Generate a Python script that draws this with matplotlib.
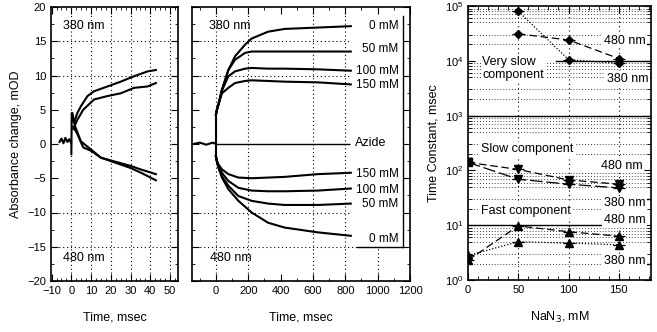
import numpy as np
import matplotlib
matplotlib.use("Agg")
import matplotlib.pyplot as plt
from matplotlib.ticker import MultipleLocator, LogLocator, NullFormatter
from matplotlib.patches import Rectangle

plt.rcParams['font.family'] = ['Liberation Sans', 'DejaVu Sans']
plt.rcParams['font.size'] = 9

# ---- panel 1: short time scale (msec) ----
t_base1 = [-6, -5, -4, -3, -2, -1, -0.2]
y_base1 = [0.3, 0.8, 0.1, 0.9, 0.3, 0.7, 0.2]
t380_a = [0, 0.2, 1.4, 3, 4.8, 8.2, 11.5, 18.3, 25, 31.8, 38.6, 42.8]
y380_a = [-1.5, 4.5, 3.1, 4.5, 5.5, 7.0, 7.7, 8.4, 9.1, 9.9, 10.6, 10.8]
t380_b = [1, 3, 6, 11.5, 18.3, 25, 31.8, 38.6, 42.8]
y380_b = [2.2, 3.5, 5.0, 6.5, 7.0, 7.4, 8.2, 8.4, 8.9]
t480_a = [0.5, 2, 4.8, 9.9, 15, 20, 25, 30, 35.3, 42.8]
y480_a = [4.5, 2.5, 0.4, -0.8, -2.0, -2.5, -3.0, -3.5, -4.2, -5.3]
t480_b = [1, 3, 6, 10, 15, 20, 25, 30, 35, 42.8]
y480_b = [2.5, 1.5, -0.5, -1.0, -2.0, -2.4, -2.8, -3.2, -3.7, -4.4]

# ---- panel 2: long time scale (msec), per azide concentration ----
t_base2 = [-140, -100, -60, -20, 0]
y_base2 = [0.0, 0.2, -0.1, 0.2, 0.0]
t2_380 = [0, 6, 16, 37, 77, 118, 180, 221, 323, 425, 630, 834]
y2_380 = {
    "0 mM":   [4.3, 5.0, 5.8, 7.9, 10.8, 12.8, 14.5, 15.4, 16.4, 16.8, 17.0, 17.2],
    "50 mM":  [4.3, 5.0, 5.8, 7.9, 10.8, 12.3, 13.3, 13.5, 13.5, 13.5, 13.5, 13.5],
    "100 mM": [4.3, 5.0, 5.8, 7.8, 9.9, 10.6, 11.0, 11.1, 11.0, 11.0, 10.9, 10.7],
    "150 mM": [4.3, 5.0, 5.8, 7.4, 8.2, 8.9, 9.2, 9.3, 9.2, 9.1, 9.0, 8.7],
}
t2_480 = [0, 6, 16, 37, 77, 139, 221, 323, 425, 630, 834]
y2_480 = {
    "150 mM": [-1.8, -2.5, -3.0, -3.7, -4.4, -4.9, -5.0, -4.9, -4.8, -4.4, -4.2],
    "100 mM": [-1.8, -2.5, -3.2, -4.2, -5.4, -6.4, -6.8, -6.9, -6.9, -6.8, -6.5],
    "50 mM":  [-1.8, -2.5, -3.4, -4.7, -6.1, -7.6, -8.3, -8.7, -8.9, -8.9, -8.7],
    "0 mM":   [-1.8, -2.6, -3.5, -4.9, -6.6, -8.3, -10.0, -11.5, -12.2, -12.9, -13.4],
}
lab380_y = [17.2, 13.9, 10.7, 8.65]
lab480_y = [-4.4, -6.7, -8.8, -13.9]

# ---- panel 3: time constants vs NaN3 ----
azide = [0, 50, 100, 150]
vslow_480 = [3.1e4, 2.4e4, 1.1e4]
vslow_380 = [8.0e4, 1.05e4, 9.0e3]
slow_480 = [140, 104, 67, 56]
slow_380 = [140, 69, 56, 48]
fast_480 = [2.3, 9.7, 7.6, 6.3]
fast_380 = [2.8, 5.0, 4.7, 4.4]

fig = plt.figure(figsize=(6.57, 3.32), dpi=100)
ax1 = fig.add_axes([51 / 657, 51 / 332, 127 / 657, 274 / 332])
ax2 = fig.add_axes([192 / 657, 51 / 332, 218 / 657, 274 / 332])
ax3 = fig.add_axes([468 / 657, 52 / 332, 183 / 657, 274 / 332])

dot = (0, (1, 2.5))
tr = dict(color='black', lw=1.5)


def style_lin(ax):
    ax.tick_params(which='both', direction='in', top=True, right=True, labelsize=8)
    ax.tick_params(which='major', length=5)
    ax.tick_params(which='minor', length=2.5)
    for s in ax.spines.values():
        s.set_linewidth(1.2)


# panel 1
ax1.plot(t_base1, y_base1, **tr)
ax1.plot(t380_a, y380_a, **tr)
ax1.plot(t380_b, y380_b, **tr)
ax1.plot(t480_a, y480_a, **tr)
ax1.plot(t480_b, y480_b, **tr)
ax1.set_xlim(-10.3, 54)
ax1.set_ylim(-20, 20)
ax1.set_xticks([-10, 0, 10, 20, 30, 40, 50],
               labels=['\u221210', '0', '10', '20', '30', '40', '50'])
ax1.xaxis.set_minor_locator(MultipleLocator(2.5))
ax1.yaxis.set_major_locator(MultipleLocator(5))
ax1.yaxis.set_minor_locator(MultipleLocator(2.5))
for x in [0, 10, 20, 30, 40, 50]:
    ax1.axvline(x, color='black', lw=0.8, ls=dot, zorder=0.5)
for y in [15, 10, -10, -15]:
    ax1.axhline(y, color='black', lw=0.8, ls=dot, zorder=0.5)
style_lin(ax1)
ax1.set_xlabel('Time, msec', labelpad=11)
ax1.set_ylabel('Absorbance change, mOD', labelpad=4)
ax1.text(-4.3, 17.2, '380 nm', va='center', fontsize=9)
ax1.text(-4.3, -16.6, '480 nm', va='center', fontsize=9)

# panel 2
ax2.plot(t_base2, y_base2, **tr)
for name, ys in y2_380.items():
    ax2.plot(t2_380, ys, **tr)
for name, ys in y2_480.items():
    ax2.plot(t2_480, ys, **tr)
ax2.plot([0, 0], [y2_480["0 mM"][0], y2_380["0 mM"][0]], **tr)
ax2.hlines(0, 0, 830, color='black', lw=1.0)
ax2.set_xlim(-148, 1200)
ax2.set_ylim(-20, 20)
ax2.xaxis.set_major_locator(MultipleLocator(200))
ax2.xaxis.set_minor_locator(MultipleLocator(100))
ax2.yaxis.set_major_locator(MultipleLocator(5))
ax2.yaxis.set_minor_locator(MultipleLocator(2.5))
for x in [0, 200, 600, 800, 1000]:
    ax2.axvline(x, color='black', lw=0.8, ls=dot, zorder=0.5)
for y in [15, 10, -10, -15]:
    ax2.axhline(y, color='black', lw=0.8, ls=dot, zorder=0.5)
ax2.add_patch(Rectangle((840, -15.1), 316, 36, facecolor='white',
                        edgecolor='none', zorder=0.8))
ax2.plot([1156, 1156], [-15.1, 18.7], color='black', lw=1.0)
ax2.plot([873, 1156], [-15.1, -15.1], color='black', lw=1.0)
style_lin(ax2)
ax2.tick_params(axis='y', labelleft=False)
ax2.set_xlabel('Time, msec', labelpad=11)
for name, y in zip(y2_380.keys(), lab380_y):
    ax2.text(1130, y, name, ha='right', va='center', fontsize=8.5)
for name, y in zip(y2_480.keys(), lab480_y):
    ax2.text(1130, y, name, ha='right', va='center', fontsize=8.5)
ax2.text(860, 0.2, 'Azide', va='center', fontsize=9)
ax2.text(-45, 17.2, '380 nm', va='center', fontsize=9)
ax2.text(-35, -16.6, '480 nm', va='center', fontsize=9)

# panel 3
ax3.set_yscale('log')
ax3.set_xlim(0, 182)
ax3.set_ylim(1, 1e5)
ax3.xaxis.set_major_locator(MultipleLocator(50))
ax3.xaxis.set_minor_locator(MultipleLocator(10))
ax3.yaxis.set_major_locator(LogLocator(base=10))
ax3.yaxis.set_minor_locator(LogLocator(base=10, subs=(2, 3, 5, 6, 7, 8, 9)))
ax3.yaxis.set_minor_formatter(NullFormatter())
ax3.grid(which='minor', axis='y', color='black', lw=0.6, ls=(0, (1, 2.5)), zorder=0.5)
for x in [50, 100, 150]:
    ax3.axvline(x, color='black', lw=0.8, ls=(0, (1, 3)), zorder=0.5)
ax3.axhline(1e3, color='black', lw=1.0)
ax3.axhline(10, xmax=137 / 182, color='black', lw=1.0)
ax3.axhline(1e4, xmin=88 / 182, color='black', lw=1.0)
ax3.add_patch(Rectangle((0, 4.5e3), 88, 5.3e3, facecolor='white',
                        edgecolor='none', zorder=0.8))
for y in [2e4, 5e3, 30, 2]:
    ax3.plot([176, 182], [y, y], color='black', lw=1.0)

mk = dict(color='black', ms=6, lw=0.9, elinewidth=0.9, capsize=0)
ax3.errorbar(azide[1:], vslow_480, xerr=6, marker='D', ms=4.5, ls=(0, (6, 3)),
             color='black', lw=0.9, elinewidth=0.9, capsize=0)
ax3.errorbar(azide[1:], vslow_380, xerr=6, marker='D', ms=4.5, ls=(0, (1, 1.5)),
             color='black', lw=0.9, elinewidth=0.9, capsize=0)
ax3.errorbar(azide, slow_480, xerr=6, marker='v', ls=(0, (6, 3)), **mk)
ax3.errorbar(azide, slow_380, xerr=6, marker='v', ls=(0, (10, 3)), **mk)
ax3.plot(azide[:1], slow_480[:1], marker='s', ms=6, color='black', ls='none')
ax3.errorbar(azide, fast_480, xerr=6, marker='^', ls=(0, (6, 3)), **mk)
ax3.errorbar(azide, fast_380, xerr=6, marker='^', ls=(0, (1, 1.5)), **mk)

tb = dict(fontsize=9, va='center',
          bbox=dict(facecolor='white', edgecolor='none', pad=1.0))
ax3.text(135, 2.3e4, '480 nm', **tb)
ax3.text(14, 7.2e3, 'Very slow\ncomponent', linespacing=1.1, **tb)
ax3.text(138, 4.7e3, '380 nm', **tb)
ax3.text(13, 245, 'Slow component', **tb)
ax3.text(132, 120, '480 nm', **tb)
ax3.text(135, 25, '380 nm', **tb)
ax3.text(13, 18.2, 'Fast component', **tb)
ax3.text(135, 12.4, '480 nm', **tb)
ax3.text(135, 2.2, '380 nm', **tb)
style_lin(ax3)
ax3.tick_params(which='minor', length=3)
ax3.set_xlabel('NaN$_3$, mM', labelpad=11)
ax3.set_ylabel('Time Constant, msec', labelpad=4)

fig.savefig('out.png', dpi=100)
